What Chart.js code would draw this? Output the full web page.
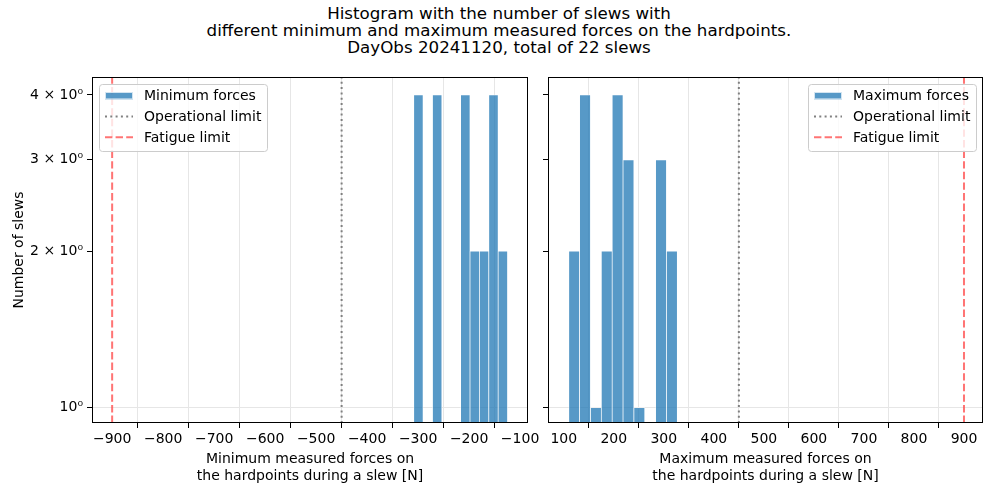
<!DOCTYPE html>
<html>
<head>
<meta charset="utf-8">
<script src="https://cdn.jsdelivr.net/npm/chart.js@4.4.1/dist/chart.umd.min.js"></script>
<style>
  body { margin: 0; background: #fff; width: 984px; height: 487px; position: relative; overflow: hidden; font-family: "DejaVu Sans", sans-serif; }
  #title { position: absolute; left: 0; width: 998px; top: 5px; text-align: center; font-size: 16.7px; line-height: 17px; color: #000; }
  .plot { position: absolute; top: 70px; height: 417px; }
  #left { left: 0; width: 540px; }
  #right { left: 540px; width: 444px; }
</style>
</head>
<body>
<div id="title">Histogram with the number of slews with<br>different minimum and maximum measured forces on the hardpoints.<br>DayObs 20241120, total of 22 slews</div>
<div class="plot" id="left"><canvas id="minChart"></canvas></div>
<div class="plot" id="right"><canvas id="maxChart"></canvas></div>
<script>
// histogram bins (empty bins = null)
const minBinEdges = [-308.6, -290.2, -271.8, -253.4, -235.0, -216.6, -198.2, -179.8, -161.4, -143.0, -124.6];
const minCounts = [4, null, 4, null, null, 4, 2, 2, 4, 2];
const maxBinEdges = [110, 131.7, 153.4, 175.1, 196.8, 218.5, 240.2, 261.9, 283.6, 305.3, 327.0];
const maxCounts = [2, 4, 1, 2, 4, 3, 1, null, 3, 2];

const operationalLimit = 450;
const fatigueLimit = 900;

const minXTicks = [-900, -800, -700, -600, -500, -400, -300, -200, -100];
const maxXTicks = [100, 200, 300, 400, 500, 600, 700, 800, 900];
const yTicks = [1, 2, 3, 4];
const yTickLabels = ["10\u2070", "2 \u00d7 10\u2070", "3 \u00d7 10\u2070", "4 \u00d7 10\u2070"];

const Y_MIN = 0.934, Y_MAX = 4.33;

Chart.defaults.font.family = '"DejaVu Sans", sans-serif';
Chart.defaults.font.size = 14;
Chart.defaults.color = "#000";

const barColor = "rgba(31, 119, 180, 0.75)";
const barEdge = "rgba(255, 255, 255, 0.75)";
const opColor = "#808080";
const fatColor = "rgba(255, 70, 70, 0.75)";

// black box around the plot area
const framePlugin = {
  id: "frame",
  afterDatasetsDraw(chart) {
    const { ctx, chartArea: a } = chart;
    ctx.save();
    ctx.strokeStyle = "#000";
    ctx.lineWidth = 1;
    ctx.strokeRect(Math.round(a.left) + 0.5, Math.round(a.top) + 0.5,
      Math.round(a.right - a.left) - 1, Math.round(a.bottom - a.top) - 1);
    ctx.restore();
  }
};

// matplotlib-like legend inside the plot
const boxLegend = {
  id: "boxLegend",
  afterDraw(chart, args, opts) {
    const { ctx, chartArea: a } = chart;
    const items = chart.data.datasets;
    ctx.save();
    ctx.font = '14px "DejaVu Sans"';
    const textW = Math.max(...items.map(d => ctx.measureText(d.label).width));
    const w = Math.round(6 + 28 + 11 + textW + 6);
    const rowH = 20.8;
    const h = Math.round(11.7 + rowH * 2 + 13.4);
    const x = opts.align === "right" ? Math.round(a.right - 7 - w) : Math.round(a.left + 7);
    const y = Math.round(a.top + 7);
    ctx.beginPath();
    if (ctx.roundRect) ctx.roundRect(x + 0.5, y + 0.5, w, h, 3);
    else ctx.rect(x + 0.5, y + 0.5, w, h);
    ctx.fillStyle = "rgba(255,255,255,0.8)";
    ctx.fill();
    ctx.strokeStyle = "#cccccc";
    ctx.lineWidth = 1;
    ctx.stroke();
    items.forEach((d, i) => {
      const cy = y + 11.7 + i * rowH;
      const hx = x + 6;
      if (d.type === "bar") {
        ctx.fillStyle = d.backgroundColor;
        ctx.fillRect(hx, cy - 3.7, 28, 7.4);
        ctx.strokeStyle = d.borderColor;
        ctx.strokeRect(hx + 0.5, cy - 3.2, 27, 6.4);
      } else {
        ctx.beginPath();
        ctx.setLineDash(d.borderDash);
        ctx.strokeStyle = d.borderColor;
        ctx.lineWidth = d.borderWidth;
        ctx.moveTo(hx, cy);
        ctx.lineTo(hx + 28, cy);
        ctx.stroke();
        ctx.setLineDash([]);
      }
      ctx.fillStyle = "#000";
      ctx.textBaseline = "middle";
      ctx.textAlign = "left";
      ctx.fillText(d.label, hx + 39, cy + 1);
    });
    ctx.restore();
  }
};

function fmt(v) {
  return v < 0 ? "\u2212" + Math.abs(v) : String(v);
}

function noPad(s) {
  s.paddingTop = 0; s.paddingBottom = 0; s.paddingLeft = 0; s.paddingRight = 0;
}

function histChart(canvasId, cfg) {
  const centers = cfg.edges.slice(0, -1).map((e, i) => (e + cfg.edges[i + 1]) / 2);
  return new Chart(document.getElementById(canvasId), {
    type: "bar",
    data: {
      datasets: [
        {
          type: "bar",
          label: cfg.label,
          data: centers.map((c, i) => ({ x: c, y: cfg.counts[i] })),
          backgroundColor: barColor,
          borderColor: barEdge,
          borderWidth: 0.7,
          borderSkipped: "start",
          barPercentage: 1,
          categoryPercentage: 1,
          grouped: false
        },
        {
          type: "line",
          label: "Operational limit",
          data: [{ x: cfg.opX, y: Y_MIN }, { x: cfg.opX, y: Y_MAX }],
          borderColor: opColor,
          borderWidth: 2,
          borderDash: [2, 3.3],
          pointRadius: 0
        },
        {
          type: "line",
          label: "Fatigue limit",
          data: [{ x: cfg.fatX, y: Y_MIN }, { x: cfg.fatX, y: Y_MAX }],
          borderColor: fatColor,
          borderWidth: 2,
          borderDash: [7.4, 3.2],
          pointRadius: 0
        }
      ]
    },
    options: {
      responsive: true,
      maintainAspectRatio: false,
      animation: false,
      layout: { padding: { left: 0, right: cfg.padRight, top: 7, bottom: 0 } },
      plugins: {
        legend: { display: false },
        tooltip: { enabled: false },
        boxLegend: { align: cfg.legendAlign }
      },
      scales: {
        x: {
          type: "linear",
          min: cfg.xMin,
          max: cfg.xMax,
          offset: false,
          afterBuildTicks: s => { s.ticks = cfg.xTicks.map(v => ({ value: v })); },
          afterFit: s => { s.height = 64; noPad(s); },
          grid: { color: "#e6e6e6", tickColor: "#000", tickLength: 5 },
          border: { display: false },
          ticks: { autoSkip: false, maxRotation: 0, padding: 3, callback: v => fmt(v) },
          title: { display: true, text: cfg.xTitle, padding: { top: 4, bottom: 2 } }
        },
        y: {
          type: "logarithmic",
          min: Y_MIN,
          max: Y_MAX,
          afterBuildTicks: s => { s.ticks = yTicks.map(v => ({ value: v })); },
          afterFit: s => { s.width = cfg.yWidth; noPad(s); },
          grid: {
            color: c => (c.tick && c.tick.value === 1 ? "#e6e6e6" : "rgba(0,0,0,0)"),
            tickColor: "#000",
            tickLength: 5
          },
          border: { display: false },
          ticks: {
            display: cfg.showY,
            padding: 4,
            callback: v => yTickLabels[yTicks.indexOf(v)]
          },
          title: { display: cfg.showY, text: "Number of slews", padding: { top: 11, bottom: 0 } }
        }
      }
    },
    plugins: [framePlugin, boxLegend]
  });
}

histChart("minChart", {
  label: "Minimum forces",
  edges: minBinEdges,
  counts: minCounts,
  opX: -operationalLimit,
  fatX: -fatigueLimit,
  xMin: -939.5,
  xMax: -84.5,
  xTicks: minXTicks,
  xTitle: ["Minimum measured forces on", "the hardpoints during a slew [N]"],
  yWidth: 92,
  padRight: 12,
  showY: true,
  legendAlign: "left"
});

histChart("maxChart", {
  label: "Maximum forces",
  edges: maxBinEdges,
  counts: maxCounts,
  opX: operationalLimit,
  fatX: fatigueLimit,
  xMin: 68.5,
  xMax: 938,
  xTicks: maxXTicks,
  xTitle: ["Maximum measured forces on", "the hardpoints during a slew [N]"],
  yWidth: 8,
  padRight: 1,
  showY: false,
  legendAlign: "right"
});
</script>
</body>
</html>
